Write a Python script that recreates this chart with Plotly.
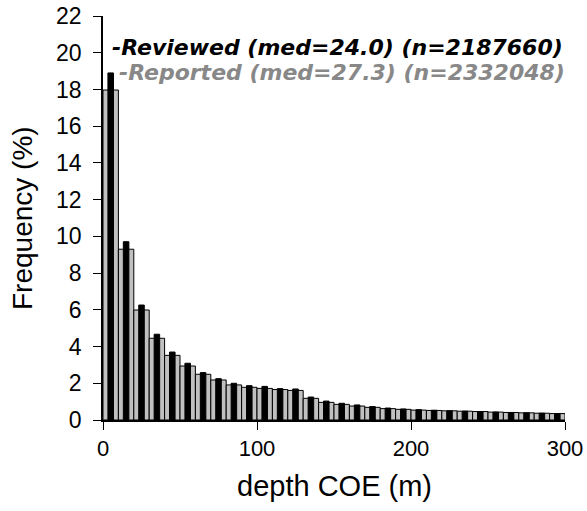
import plotly.graph_objects as go

bin_centers = [5 + 10 * i for i in range(30)]
reviewed = [18.9, 9.71, 6.26, 4.67, 3.70, 3.09, 2.58, 2.25, 2.00, 1.87,
            1.83, 1.71, 1.69, 1.25, 1.03, 0.91, 0.82, 0.73, 0.65, 0.60,
            0.56, 0.53, 0.50, 0.48, 0.46, 0.43, 0.41, 0.39, 0.37, 0.35]
reported = [17.97, 9.30, 5.99, 4.45, 3.52, 2.94, 2.49, 2.18, 1.91, 1.78,
            1.72, 1.66, 1.61, 1.18, 0.96, 0.85, 0.76, 0.69, 0.62, 0.58,
            0.54, 0.52, 0.50, 0.48, 0.46, 0.43, 0.41, 0.39, 0.37, 0.35]
label_reviewed = "-Reviewed (med=24.0) (n=2187660)"
label_reported = "-Reported (med=27.3) (n=2332048)"
y_ticks = list(range(0, 23, 2))
x_ticks = [0, 100, 200, 300]

W, H = 587, 511
L, R, T, B = 103, 22, 16, 91
pw, ph = W - L - R, H - T - B

fig = go.Figure()
fig.add_trace(go.Bar(x=bin_centers, y=reported, width=10,
                     marker=dict(color="#c0c0c0", line=dict(color="black", width=1)),
                     name=label_reported))
fig.add_trace(go.Bar(x=bin_centers, y=reviewed, width=3.6,
                     marker=dict(color="black", line=dict(color="black", width=1)),
                     name=label_reviewed))

fig.update_layout(
    width=W, height=H,
    margin=dict(l=L, r=R, t=T, b=B, autoexpand=False),
    barmode="overlay",
    showlegend=False,
    plot_bgcolor="white", paper_bgcolor="white",
    font=dict(family="Liberation Sans", size=22, color="black"),
    xaxis=dict(range=[0, 300], tickvals=x_ticks, showline=True, linecolor="black",
               linewidth=1.5, ticks="outside", ticklen=8, tickcolor="black",
               showgrid=False, zeroline=False, automargin=False),
    yaxis=dict(range=[0, 22], tickvals=y_ticks, showline=True, linecolor="black",
               linewidth=1.5, ticks="outside", ticklen=8, tickcolor="black",
               ticklabelstandoff=7, tickfont=dict(size=23),
               showgrid=False, zeroline=False, automargin=False),
)

def px(x):
    return (x - L) / pw

def py(y):
    return (H - B - y) / ph

fig.add_annotation(xref="paper", yref="paper", x=px(334), y=py(486),
                   xanchor="center", yanchor="middle", showarrow=False,
                   text="depth COE (m)", font=dict(size=29))
fig.add_annotation(xref="paper", yref="paper", x=px(22), y=py(218),
                   xanchor="center", yanchor="middle", showarrow=False, textangle=-90,
                   text="Frequency (%)", font=dict(size=28))
fig.add_annotation(xref="paper", yref="paper", x=px(110), y=py(48),
                   xanchor="left", yanchor="middle", showarrow=False,
                   text="<b><i>" + label_reviewed + "</i></b>",
                   font=dict(family="DejaVu Sans", size=22, color="black"))
fig.add_annotation(xref="paper", yref="paper", x=px(117), y=py(72),
                   xanchor="left", yanchor="middle", showarrow=False,
                   text="<b><i>" + label_reported + "</i></b>",
                   font=dict(family="DejaVu Sans", size=22, color="#888888"))

fig.write_html("out.html")
